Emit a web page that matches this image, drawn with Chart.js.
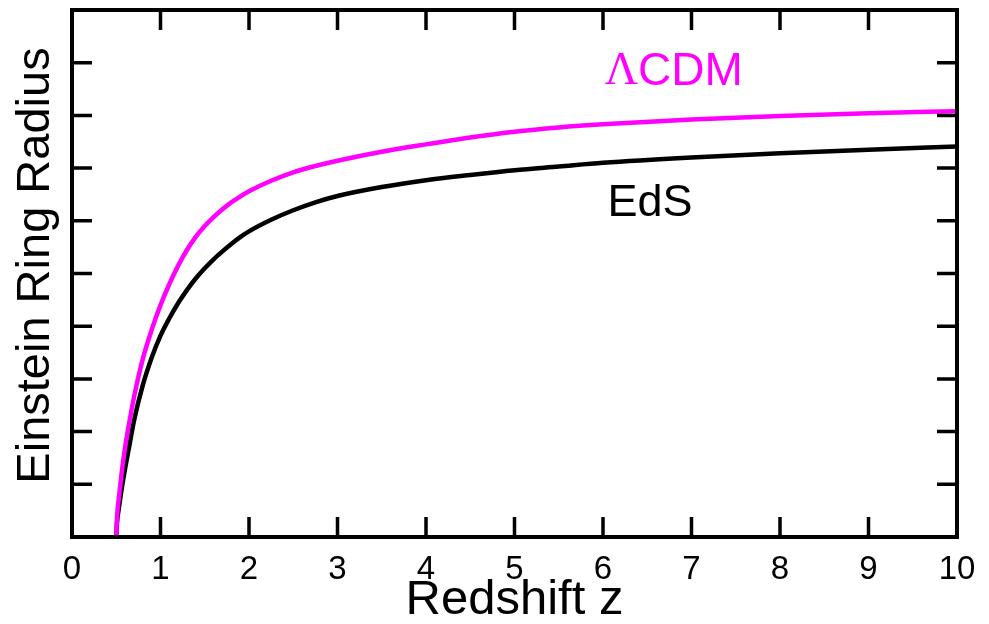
<!DOCTYPE html>
<html><head><meta charset="utf-8">
<script src="https://cdn.jsdelivr.net/npm/chart.js@4.4.0/dist/chart.umd.min.js"></script>
<style>html,body{margin:0;padding:0;background:#fff;overflow:hidden}#wrap{width:989px;height:624px;position:relative}</style>
</head><body><div id="wrap"><canvas id="c"></canvas></div>
<script>
const redshift   = [0.5, 0.51, 0.53, 0.56, 0.6, 0.65, 0.7, 0.8, 0.9, 1.0, 1.1, 1.2, 1.3, 1.4, 1.5, 1.6, 1.7, 1.8, 1.9, 2.0, 2.25, 2.5, 2.75, 3.0, 3.5, 4.0, 4.5, 5.0, 5.5, 6.0, 7.0, 8.0, 9.0, 10.0];
const lcdmRadius = [0, 0.4, 0.75, 1.2, 1.7, 2.2, 2.65, 3.38, 3.93, 4.4, 4.8, 5.15, 5.45, 5.7, 5.9, 6.07, 6.22, 6.35, 6.46, 6.56, 6.76, 6.92, 7.04, 7.14, 7.31, 7.45, 7.58, 7.69, 7.77, 7.83, 7.92, 7.99, 8.04, 8.08];
const edsRadius  = [0, 0.3, 0.55, 0.9, 1.3, 1.75, 2.2, 2.88, 3.4, 3.82, 4.15, 4.44, 4.69, 4.91, 5.1, 5.27, 5.42, 5.56, 5.69, 5.8, 6.02, 6.2, 6.35, 6.47, 6.64, 6.77, 6.87, 6.96, 7.03, 7.1, 7.2, 7.28, 7.35, 7.41];
const xTickValues = [0, 1, 2, 3, 4, 5, 6, 7, 8, 9, 10];
const yTickValues = [0, 1, 2, 3, 4, 5, 6, 7, 8, 9, 10];
const seriesNames = ['ΛCDM', 'EdS'];
const xTitle = 'Redshift z';
const yTitle = 'Einstein Ring Radius';

const MAGENTA = '#ff00ff';
const SANS = '"Liberation Sans", Arial, Helvetica, sans-serif';

const frameTicks = {
  id: 'frameTicks',
  afterDatasetsDraw(chart) {
    const {ctx, chartArea: a, scales: {x, y}} = chart;
    ctx.save();
    ctx.strokeStyle = '#000';
    ctx.lineWidth = 3.5;
    ctx.lineCap = 'butt';
    const L = 20;
    ctx.beginPath();
    xTickValues.slice(1, -1).forEach(v => {
      const px = x.getPixelForValue(v);
      ctx.moveTo(px, a.bottom); ctx.lineTo(px, a.bottom - L);
      ctx.moveTo(px, a.top); ctx.lineTo(px, a.top + L);
    });
    yTickValues.slice(1, -1).forEach(v => {
      const py = y.getPixelForValue(v);
      ctx.moveTo(a.left, py); ctx.lineTo(a.left + L, py);
      ctx.moveTo(a.right, py); ctx.lineTo(a.right - L, py);
    });
    ctx.stroke();
    ctx.lineWidth = 4;
    ctx.strokeRect(a.left, a.top, a.right - a.left, a.bottom - a.top);
    ctx.restore();
  }
};

const yAxisTitle = {
  id: 'yAxisTitle',
  afterDraw(chart, args, opts) {
    const {ctx, chartArea: a} = chart;
    ctx.save();
    ctx.translate(opts.x, (a.top + a.bottom) / 2 + opts.shift);
    ctx.rotate(-Math.PI / 2);
    ctx.font = opts.font;
    ctx.fillStyle = '#000';
    ctx.textAlign = 'center';
    ctx.textBaseline = 'middle';
    ctx.fillText(opts.text, 0, 0);
    ctx.restore();
  }
};

const curveLabels = {
  id: 'curveLabels',
  afterDatasetsDraw(chart, args, opts) {
    const {ctx, scales: {x, y}} = chart;
    ctx.save();
    ctx.textBaseline = 'middle';
    ctx.textAlign = 'left';
    opts.items.forEach(it => {
      let px = x.getPixelForValue(it.x);
      const py = y.getPixelForValue(it.y);
      ctx.fillStyle = it.color;
      it.parts.forEach(p => {
        ctx.font = p.font;
        ctx.fillText(p.text, px, py);
        px += ctx.measureText(p.text).width;
      });
    });
    ctx.restore();
  }
};

new Chart(document.getElementById('c'), {
  type: 'line',
  data: {
    datasets: [
      {
        label: seriesNames[0],
        data: redshift.map((z, i) => ({x: z, y: lcdmRadius[i]})),
        borderColor: MAGENTA, borderWidth: 4.5, pointRadius: 0,
        cubicInterpolationMode: 'monotone', fill: false
      },
      {
        label: seriesNames[1],
        data: redshift.map((z, i) => ({x: z, y: edsRadius[i]})),
        borderColor: '#000', borderWidth: 4.5, pointRadius: 0,
        cubicInterpolationMode: 'monotone', fill: false
      }
    ]
  },
  options: {
    responsive: true, maintainAspectRatio: false, animation: false,
    layout: {padding: {left: 0, right: 32, top: 10, bottom: 0}},
    plugins: {
      legend: {display: false}, tooltip: {enabled: false},
      yAxisTitle: {text: yTitle, x: 36, shift: -8, font: '47px ' + SANS},
      curveLabels: {
        items: [
          {x: 6.02, y: 8.82, color: MAGENTA, parts: [
            {text: 'Λ', font: '46px "Liberation Serif", serif'},
            {text: 'CDM', font: '46px ' + SANS}
          ]},
          {x: 6.05, y: 6.33, color: '#000', parts: [
            {text: 'EdS', font: '45px ' + SANS}
          ]}
        ]
      }
    },
    scales: {
      x: {
        type: 'linear', min: 0, max: 10,
        afterFit(s) { s.height = 87; },
        afterBuildTicks(s) { s.ticks = xTickValues.map(v => ({value: v})); },
        grid: {display: false, drawTicks: false},
        border: {display: false},
        ticks: {color: '#000', padding: 13, font: {family: SANS, size: 33}, maxRotation: 0, autoSkip: false},
        title: {display: true, text: xTitle, color: '#000', font: {family: SANS, size: 49, lineHeight: 1}, padding: {top: 0, bottom: -1}}
      },
      y: {
        type: 'linear', min: 0, max: 10,
        afterFit(s) { s.width = 72; },
        afterBuildTicks(s) { s.ticks = yTickValues.map(v => ({value: v})); },
        grid: {display: false, drawTicks: false},
        border: {display: false},
        ticks: {display: false},
        title: {display: false}
      }
    }
  },
  plugins: [frameTicks, curveLabels, yAxisTitle]
});
</script></body></html>
